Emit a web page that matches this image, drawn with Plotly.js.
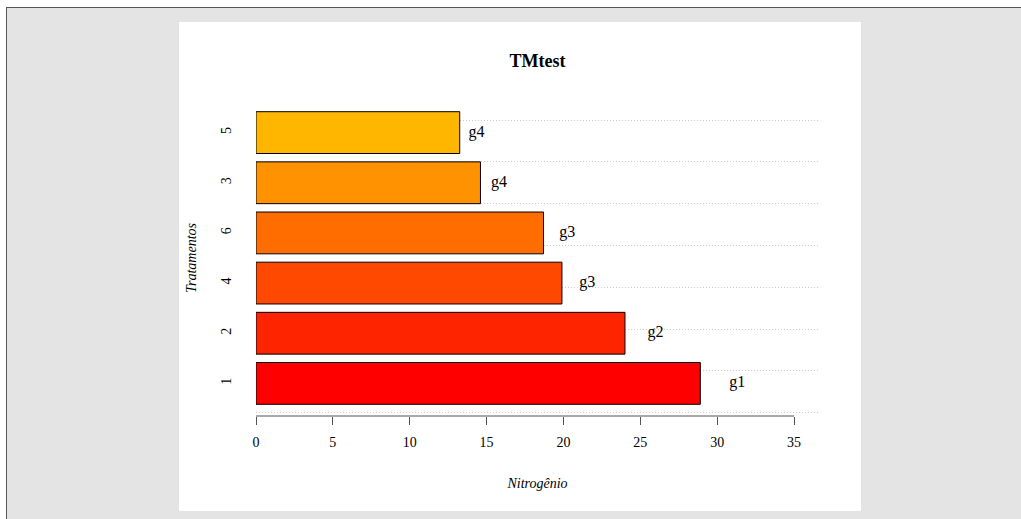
<!DOCTYPE html>
<html>
<head>
<meta charset="utf-8">
<script src="https://cdn.plot.ly/plotly-3.0.1.min.js"></script>
<style>
  html, body { margin: 0; padding: 0; width: 1021px; height: 519px; overflow: hidden; background: #ffffff; }
  #frame { position: absolute; left: 6px; top: 7px; width: 1100px; height: 600px;
           background: #e4e4e4; border-left: 1px solid #555; border-top: 1px solid #555; }
  #chart { position: absolute; left: 179px; top: 22px; width: 682px; height: 489px; background: #ffffff; }
</style>
</head>
<body>
<div id="frame"></div>
<div id="chart"></div>
<script>
// Treatments, bottom to top, with mean nitrogen and test group letters
var treatments = ['1', '2', '4', '6', '3', '5'];
var nitrogen   = [28.9, 24.0, 19.9, 18.7, 14.6, 13.25];
var groups     = ['g1', 'g2', 'g3', 'g3', 'g4', 'g4'];
var barColors  = ['#FF0000', '#FF2400', '#FF4900', '#FF6D00', '#FF9200', '#FFB600'];
var xTicks     = [0, 5, 10, 15, 20, 25, 30, 35];

// Bar layout in the style of a base-R barplot: width 1, space 0.2
var barWidth = 1, space = 0.2;
var centers = treatments.map(function (_, i) {
  return space * barWidth + barWidth / 2 + i * (1 + space) * barWidth;
});
var yLow = space, yHigh = treatments.length * (1 + space) * barWidth;
var pad = 0.04 * (yHigh - yLow);
var yRange = [yLow - pad, yHigh + pad];
var gridVals = [];
for (var g = Math.ceil(yRange[0]); g <= Math.floor(yRange[1]); g++) gridVals.push(g);

var serif = 'Liberation Serif, DejaVu Serif, serif';

var bars = {
  type: 'bar',
  orientation: 'h',
  x: nitrogen,
  y: centers,
  width: barWidth,
  marker: { color: barColors, line: { color: '#000000', width: 1 } },
  hoverinfo: 'skip',
  showlegend: false
};

var letters = {
  type: 'scatter',
  mode: 'text',
  x: nitrogen.map(function (v) { return v * 1.083; }),
  y: centers,
  text: groups,
  textposition: 'middle center',
  textfont: { family: serif, size: 16, color: '#000000' },
  hoverinfo: 'skip',
  showlegend: false
};

var layout = {
  width: 682,
  height: 489,
  margin: { l: 77, r: 42, t: 78, b: 95, pad: 0 },
  paper_bgcolor: '#ffffff',
  plot_bgcolor: '#ffffff',
  title: {
    text: '<b>TMtest</b>',
    font: { family: serif, size: 18, color: '#000000' },
    x: 0.5, xref: 'paper', xanchor: 'center',
    y: 39, yref: 'container', yanchor: 'middle'
  },
  xaxis: {
    range: [0, 36.62],
    tickvals: xTicks,
    ticktext: xTicks.map(String),
    ticks: 'outside',
    ticklen: 8,
    tickwidth: 1,
    tickcolor: '#555555',
    ticklabelstandoff: 5,
    showline: false,
    showgrid: false,
    zeroline: false,
    tickfont: { family: serif, size: 14, color: '#000000' },
    title: {
      text: '<i>Nitrogênio</i>',
      font: { family: serif, size: 14, color: '#000000' },
      standoff: 29
    }
  },
  yaxis: {
    range: yRange,
    tickvals: gridVals,
    showticklabels: false,
    ticks: '',
    showgrid: true,
    gridcolor: '#cccccc',
    gridwidth: 1,
    griddash: '1px,2px',
    zeroline: false,
    showline: false,
    title: {
      text: '<i>Tratamentos</i>',
      font: { family: serif, size: 14, color: '#000000' },
      standoff: 55
    }
  },
  yaxis2: {
    overlaying: 'y',
    side: 'left',
    range: yRange,
    tickvals: centers,
    ticktext: treatments,
    tickangle: -90,
    ticks: 'outside',
    ticklen: 18,
    tickcolor: 'rgba(0,0,0,0)',
    showgrid: false,
    zeroline: false,
    showline: false,
    tickfont: { family: serif, size: 14, color: '#000000' }
  },
  shapes: [{
    type: 'line', xref: 'x', yref: 'paper',
    x0: xTicks[0], x1: xTicks[xTicks.length - 1], y0: 0, y1: 0,
    line: { color: '#555555', width: 1 }
  }]
};

var axisHolder = {
  type: 'scatter', x: [], y: [], yaxis: 'y2', hoverinfo: 'skip', showlegend: false
};

Plotly.newPlot('chart', [bars, letters, axisHolder], layout, { displayModeBar: false, staticPlot: true });
</script>
</body>
</html>
